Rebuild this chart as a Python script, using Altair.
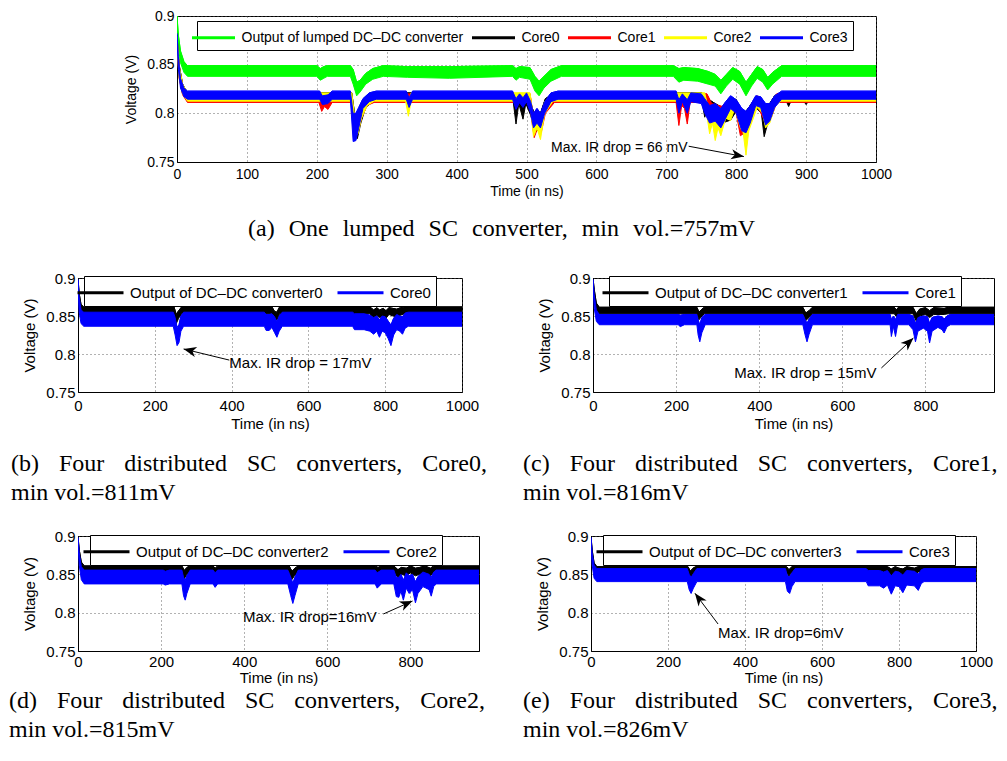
import math
import altair as alt
import pandas as pd

X_TITLE = "Time (in ns)"
Y_TITLE = "Voltage (V)"
Y_TICKS = [0.75, 0.8, 0.85, 0.9]

# ---------------- (a) one lumped converter: [time, low edge, high edge] ----------------
A_NAMES = ["Output of lumped DC\u2013DC converter", "Core0", "Core1", "Core2", "Core3"]
A_COLORS = ["#00ff00", "#000000", "#ff0000", "#ffff00", "#0000ff"]
A_TMAX = 1000
A_XTICKS = [0, 100, 200, 300, 400, 500, 600, 700, 800, 900, 1000]
A_OUT = [[0, 0.895, 0.9], [2, 0.868, 0.88], [5, 0.852, 0.864], [10, 0.842, 0.853], [15, 0.838, 0.849],
         [200, 0.838, 0.849], [205, 0.834, 0.846], [210, 0.836, 0.848], [215, 0.838, 0.849],
         [248, 0.838, 0.849], [252, 0.83, 0.845], [257, 0.818, 0.832], [262, 0.822, 0.834], [270, 0.83, 0.841],
         [280, 0.835, 0.846], [295, 0.838, 0.849], [330, 0.837, 0.848], [390, 0.836, 0.848], [480, 0.838, 0.849],
         [485, 0.834, 0.846], [490, 0.837, 0.848], [505, 0.835, 0.847], [512, 0.823, 0.838], [518, 0.818, 0.833],
         [525, 0.826, 0.838], [535, 0.833, 0.845], [550, 0.838, 0.849], [710, 0.838, 0.849], [718, 0.832, 0.846],
         [725, 0.834, 0.847], [745, 0.833, 0.846], [760, 0.83, 0.843], [770, 0.828, 0.84], [778, 0.82, 0.834],
         [786, 0.828, 0.84], [795, 0.835, 0.847], [805, 0.83, 0.843], [814, 0.818, 0.832], [822, 0.828, 0.84],
         [830, 0.836, 0.848], [838, 0.832, 0.845], [845, 0.824, 0.837], [852, 0.83, 0.842], [865, 0.838, 0.849],
         [1000, 0.838, 0.849]]
A_C0 = [[0, 0.87, 0.88], [3, 0.838, 0.85], [8, 0.82, 0.83], [15, 0.812, 0.821],
        [250, 0.812, 0.821], [254, 0.785, 0.8], [258, 0.774, 0.795], [263, 0.79, 0.806], [270, 0.806, 0.816],
        [280, 0.812, 0.821], [481, 0.812, 0.821], [485, 0.789, 0.806], [489, 0.81, 0.819], [495, 0.794, 0.808],
        [499, 0.81, 0.819], [506, 0.798, 0.81], [512, 0.78, 0.798], [520, 0.785, 0.8], [527, 0.805, 0.815],
        [540, 0.812, 0.821], [751, 0.812, 0.821], [755, 0.796, 0.81], [759, 0.805, 0.815], [770, 0.795, 0.81],
        [780, 0.79, 0.806], [792, 0.793, 0.808], [800, 0.802, 0.814], [810, 0.778, 0.798], [818, 0.79, 0.806],
        [828, 0.806, 0.816], [836, 0.8, 0.812], [840, 0.776, 0.796], [846, 0.792, 0.808], [855, 0.808, 0.818],
        [862, 0.812, 0.821], [872, 0.812, 0.821], [875, 0.807, 0.817], [878, 0.812, 0.821], [897, 0.812, 0.821],
        [900, 0.809, 0.819], [903, 0.812, 0.821], [1000, 0.812, 0.821]]
A_C1 = [[0, 0.868, 0.878], [3, 0.836, 0.848], [8, 0.819, 0.829], [15, 0.8112, 0.82],
        [203, 0.8112, 0.82], [207, 0.802, 0.814], [211, 0.807, 0.816], [216, 0.804, 0.815], [222, 0.8112, 0.82],
        [249, 0.8112, 0.82], [253, 0.776, 0.798], [258, 0.778, 0.8], [264, 0.795, 0.81], [272, 0.808, 0.818],
        [282, 0.8112, 0.82], [505, 0.8112, 0.82], [508, 0.79, 0.805], [511, 0.775, 0.795], [516, 0.785, 0.8],
        [521, 0.78, 0.798], [527, 0.8, 0.812], [540, 0.8112, 0.82], [714, 0.8112, 0.82], [718, 0.7875, 0.805],
        [722, 0.808, 0.817], [726, 0.805, 0.815], [730, 0.789, 0.806], [734, 0.8112, 0.82], [758, 0.8112, 0.82],
        [765, 0.795, 0.81], [780, 0.792, 0.807], [792, 0.805, 0.815], [800, 0.8, 0.812], [806, 0.777, 0.797],
        [812, 0.78, 0.798], [820, 0.792, 0.807], [830, 0.808, 0.818], [842, 0.79, 0.806], [850, 0.795, 0.81],
        [858, 0.8112, 0.82], [1000, 0.8112, 0.82]]
A_C2 = [[0, 0.869, 0.879], [3, 0.837, 0.849], [8, 0.82, 0.83], [15, 0.8125, 0.821],
        [250, 0.8125, 0.821], [254, 0.778, 0.798], [259, 0.779, 0.8], [264, 0.795, 0.81], [272, 0.808, 0.818],
        [282, 0.8125, 0.821], [327, 0.8125, 0.821], [331, 0.797, 0.812], [335, 0.8125, 0.821],
        [505, 0.8125, 0.821], [510, 0.776, 0.796], [515, 0.785, 0.8], [520, 0.773, 0.794], [526, 0.8, 0.812],
        [538, 0.8125, 0.821], [755, 0.8125, 0.821], [762, 0.779, 0.799], [766, 0.79, 0.806], [770, 0.772, 0.794],
        [774, 0.785, 0.8], [778, 0.777, 0.797], [785, 0.795, 0.81], [792, 0.7926, 0.808], [798, 0.805, 0.815],
        [806, 0.785, 0.8], [810, 0.78, 0.798], [814, 0.757, 0.785], [818, 0.782, 0.8], [822, 0.79, 0.806],
        [830, 0.806, 0.816], [838, 0.8, 0.812], [842, 0.785, 0.8], [848, 0.79, 0.806], [856, 0.808, 0.818],
        [864, 0.8125, 0.821], [1000, 0.8125, 0.821]]
A_C3 = [[0, 0.875, 0.882], [2, 0.845, 0.858], [5, 0.826, 0.836], [10, 0.817, 0.826], [15, 0.8145, 0.8228],
        [204, 0.8145, 0.8228], [208, 0.809, 0.818], [216, 0.81, 0.819], [222, 0.8145, 0.8228],
        [248, 0.8145, 0.8228], [252, 0.771, 0.8], [256, 0.772, 0.8], [260, 0.785, 0.806], [266, 0.805, 0.815],
        [275, 0.812, 0.821], [285, 0.8145, 0.8228], [328, 0.8145, 0.8228], [332, 0.806, 0.816], [337, 0.8145, 0.8228],
        [480, 0.8145, 0.8228], [485, 0.804, 0.815], [490, 0.811, 0.82], [495, 0.806, 0.816], [500, 0.812, 0.821],
        [506, 0.8, 0.812], [510, 0.785, 0.8], [515, 0.79, 0.805], [520, 0.785, 0.8], [526, 0.8, 0.812],
        [535, 0.812, 0.821], [545, 0.8145, 0.8228], [714, 0.8145, 0.8228], [718, 0.8, 0.814], [723, 0.812, 0.82],
        [730, 0.8, 0.814], [735, 0.812, 0.821], [750, 0.81, 0.82], [755, 0.8, 0.815], [762, 0.79, 0.808],
        [770, 0.792, 0.81], [778, 0.785, 0.805], [785, 0.795, 0.812], [792, 0.805, 0.818], [800, 0.8, 0.814],
        [808, 0.782, 0.805], [814, 0.78, 0.802], [820, 0.79, 0.808], [828, 0.808, 0.818], [835, 0.806, 0.817],
        [842, 0.788, 0.81], [848, 0.792, 0.81], [855, 0.806, 0.818], [865, 0.8145, 0.8228], [1000, 0.8145, 0.8228]]

# ---------------- (b)-(e) distributed converters ----------------
B_NAMES = ["Output of DC\u2013DC converter0", "Core0"]
C_NAMES = ["Output of DC\u2013DC converter1", "Core1"]
D_NAMES = ["Output of DC\u2013DC converter2", "Core2"]
E_NAMES = ["Output of DC\u2013DC converter3", "Core3"]
PAIR_COLORS = ["#000000", "#0000ff"]

B_OUT = [[0, 0.895, 0.9], [3, 0.87, 0.88], [8, 0.856, 0.865], [15, 0.853, 0.862],
         [250, 0.853, 0.862], [256, 0.84, 0.852], [262, 0.847, 0.857], [270, 0.853, 0.862],
         [505, 0.853, 0.862], [512, 0.846, 0.856], [518, 0.845, 0.855], [525, 0.853, 0.862],
         [760, 0.853, 0.862], [770, 0.848, 0.858], [778, 0.851, 0.861], [785, 0.848, 0.858], [795, 0.85, 0.86],
         [802, 0.847, 0.857], [810, 0.852, 0.861], [820, 0.85, 0.86], [830, 0.849, 0.859], [840, 0.851, 0.861],
         [850, 0.853, 0.862], [1000, 0.853, 0.862]]
B_CORE = [[0, 0.89, 0.898], [3, 0.855, 0.875], [8, 0.84, 0.858], [15, 0.8365, 0.855],
          [248, 0.8365, 0.855], [253, 0.825, 0.848], [258, 0.811, 0.835], [263, 0.815, 0.838], [268, 0.83, 0.85],
          [275, 0.8365, 0.855], [485, 0.8365, 0.855], [490, 0.831, 0.852], [498, 0.831, 0.852], [505, 0.835, 0.853],
          [512, 0.828, 0.849], [518, 0.822, 0.842], [524, 0.83, 0.85], [532, 0.8365, 0.855], [715, 0.8365, 0.855],
          [720, 0.832, 0.853], [745, 0.832, 0.853], [760, 0.83, 0.851], [770, 0.826, 0.848], [778, 0.83, 0.85],
          [785, 0.822, 0.845], [792, 0.83, 0.85], [800, 0.828, 0.849], [808, 0.82, 0.843], [815, 0.811, 0.838],
          [822, 0.825, 0.847], [830, 0.832, 0.852], [838, 0.83, 0.85], [845, 0.826, 0.849], [852, 0.834, 0.854],
          [860, 0.8365, 0.855], [1000, 0.8365, 0.855]]
C_OUT = [[0, 0.895, 0.9], [3, 0.875, 0.885], [8, 0.858, 0.867], [15, 0.853, 0.8615],
         [250, 0.853, 0.8615], [255, 0.845, 0.855], [262, 0.85, 0.859], [268, 0.853, 0.8615],
         [505, 0.853, 0.8615], [512, 0.844, 0.854], [520, 0.848, 0.857], [528, 0.853, 0.8615],
         [725, 0.853, 0.8615], [730, 0.849, 0.858], [735, 0.853, 0.8615], [770, 0.853, 0.8615],
         [778, 0.843, 0.853], [786, 0.85, 0.859], [800, 0.852, 0.861], [810, 0.848, 0.857], [820, 0.852, 0.861],
         [845, 0.852, 0.86], [855, 0.853, 0.8615], [965, 0.853, 0.8615]]
C_CORE = [[0, 0.89, 0.898], [3, 0.86, 0.878], [8, 0.843, 0.858], [15, 0.8385, 0.852],
          [205, 0.8385, 0.852], [210, 0.836, 0.851], [220, 0.8385, 0.852],
          [250, 0.8385, 0.852], [253, 0.825, 0.845], [257, 0.816, 0.838], [262, 0.828, 0.848], [270, 0.8385, 0.852],
          [505, 0.8385, 0.852], [510, 0.826, 0.846], [515, 0.816, 0.84], [520, 0.826, 0.846], [528, 0.8385, 0.852],
          [715, 0.8385, 0.852], [718, 0.823, 0.845], [723, 0.836, 0.85], [728, 0.823, 0.845], [733, 0.8385, 0.852],
          [760, 0.8385, 0.852], [770, 0.832, 0.85], [776, 0.816, 0.84], [782, 0.83, 0.848], [795, 0.834, 0.85],
          [805, 0.83, 0.849], [810, 0.8145, 0.84], [816, 0.83, 0.848], [830, 0.835, 0.85], [840, 0.832, 0.849],
          [845, 0.8276, 0.846], [852, 0.836, 0.85], [860, 0.8385, 0.852], [965, 0.8385, 0.852]]
D_OUT = [[0, 0.895, 0.9], [3, 0.872, 0.882], [8, 0.857, 0.866], [15, 0.853, 0.861],
         [250, 0.853, 0.861], [256, 0.8446, 0.855], [262, 0.85, 0.859], [270, 0.853, 0.861],
         [325, 0.853, 0.861], [330, 0.85, 0.858], [336, 0.853, 0.861],
         [508, 0.853, 0.861], [515, 0.8433, 0.854], [522, 0.849, 0.858], [530, 0.853, 0.861],
         [715, 0.853, 0.861], [722, 0.85, 0.859], [730, 0.853, 0.861], [760, 0.853, 0.861], [770, 0.846, 0.856],
         [778, 0.85, 0.859], [790, 0.848, 0.858], [800, 0.852, 0.861], [812, 0.848, 0.858], [822, 0.85, 0.859],
         [835, 0.852, 0.861], [848, 0.848, 0.858], [856, 0.853, 0.861], [965, 0.853, 0.861]]
D_CORE = [[0, 0.89, 0.898], [3, 0.862, 0.878], [8, 0.843, 0.86], [15, 0.8375, 0.8555],
          [205, 0.8375, 0.8555], [210, 0.836, 0.854], [220, 0.8375, 0.8555],
          [250, 0.8375, 0.8555], [254, 0.822, 0.846], [258, 0.8163, 0.842], [262, 0.825, 0.848], [270, 0.8375, 0.8555],
          [325, 0.8375, 0.8555], [330, 0.833, 0.852], [336, 0.8375, 0.8555],
          [505, 0.8375, 0.8555], [512, 0.822, 0.846], [517, 0.812, 0.838], [522, 0.822, 0.846], [530, 0.8375, 0.8555],
          [715, 0.8375, 0.8555], [720, 0.832, 0.852], [730, 0.8375, 0.8555], [760, 0.8375, 0.8555],
          [766, 0.821, 0.846], [772, 0.82, 0.846], [777, 0.828, 0.85], [783, 0.8163, 0.842], [790, 0.832, 0.852],
          [797, 0.825, 0.848], [805, 0.83, 0.85], [812, 0.8128, 0.84], [818, 0.825, 0.847], [830, 0.834, 0.853],
          [845, 0.83, 0.85], [850, 0.8215, 0.846], [856, 0.834, 0.853], [862, 0.8375, 0.8555], [965, 0.8375, 0.8555]]
E_OUT = [[0, 0.895, 0.9], [3, 0.872, 0.882], [8, 0.857, 0.865], [15, 0.853, 0.86],
         [252, 0.853, 0.86], [258, 0.8446, 0.854], [265, 0.85, 0.858], [272, 0.853, 0.86],
         [508, 0.853, 0.86], [514, 0.8477, 0.856], [522, 0.853, 0.86], [770, 0.853, 0.86],
         [780, 0.848, 0.857], [790, 0.852, 0.86], [800, 0.85, 0.858], [810, 0.848, 0.857], [820, 0.852, 0.86],
         [840, 0.85, 0.858], [850, 0.853, 0.86], [1000, 0.853, 0.86]]
E_CORE = [[0, 0.892, 0.898], [3, 0.862, 0.878], [8, 0.845, 0.862], [15, 0.8405, 0.8575],
          [250, 0.8405, 0.8575], [255, 0.83, 0.85], [260, 0.825, 0.846], [266, 0.832, 0.851], [275, 0.8405, 0.8575],
          [505, 0.8405, 0.8575], [510, 0.828, 0.848], [516, 0.825, 0.847], [522, 0.834, 0.852], [530, 0.8405, 0.8575],
          [715, 0.8405, 0.8575], [720, 0.835, 0.855], [750, 0.835, 0.855], [760, 0.832, 0.853], [770, 0.836, 0.855],
          [780, 0.8241, 0.848], [790, 0.835, 0.854], [800, 0.834, 0.853], [810, 0.826, 0.849], [820, 0.836, 0.855],
          [840, 0.835, 0.854], [850, 0.829, 0.85], [858, 0.838, 0.856], [865, 0.8405, 0.8575], [1000, 0.8405, 0.8575]]

# annotations: text, text anchor (t, v), arrow start (t, v), arrow tip (t, v)
A_NOTE = ["Max. IR drop = 66 mV", 535, 0.7648, 732, 0.7662, 811, 0.7556]
B_NOTE = ["Max. IR drop = 17mV", 394, 0.7878, 394, 0.792, 275, 0.8066]
C_NOTE = ["Max. IR drop = 15mV", 340, 0.775, 694, 0.7816, 771, 0.821]
D_NOTE = ["Max. IR drop=16mV", 397, 0.7943, 735, 0.7983, 805, 0.8152]
E_NOTE = ["Max. IR drop=6mV", 330, 0.7735, 330, 0.7852, 270, 0.8253]

SP = "\u00a0"
GA = SP * 2 + "\u200a"
G3 = SP * 3 + "\u200a"
CAP_A = GA.join(["(a)", "One", "lumped", "SC", "converter,", "min", "vol.=757mV"])
CAP_B = [G3.join(["(b)", "Four", "distributed", "SC", "converters,", "Core0,"]), "min" + SP + "vol.=811mV"]
CAP_C = [G3.join(["(c)", "Four", "distributed", "SC", "converters,", "Core1,"]), "min" + SP + "vol.=816mV"]
CAP_D = [G3.join(["(d)", "Four", "distributed", "SC", "converters,", "Core2,"]), "min" + SP + "vol.=815mV"]
CAP_E = [G3.join(["(e)", "Four", "distributed", "SC", "converters,", "Core3,"]), "min" + SP + "vol.=826mV"]

ARROW_PATH = "M0,0L-1,-0.4L-0.72,0L-1,0.4Z"
SANS = "Liberation Sans"
SERIF = "Liberation Serif"


def panel(names, colors, series, tmax, xticks, width, height, fs, note, caption, cap_dx, cap_off,
          lg_x, lg_y, sym_half, col_pad, lg_pad, lab_pad, tit_pad):
    rows = []
    for name, pts in zip(names, series):
        for t, lo, hi in pts:
            rows.append({"t": t, "lo": lo, "hi": hi, "s": name})
    df = pd.DataFrame(rows)
    xs = alt.Scale(domain=[0, tmax], nice=False, zero=False)
    ys = alt.Scale(domain=[0.75, 0.9], nice=False, zero=False)
    xax = alt.Axis(values=xticks, format="d", title=X_TITLE, labelFontSize=fs, titleFontSize=fs,
                   labelPadding=lab_pad, titlePadding=tit_pad, labelFlush=False, labelOverlap=False)
    yax = alt.Axis(values=Y_TICKS, format="~g", title=Y_TITLE, labelFontSize=fs, titleFontSize=fs,
                   labelPadding=3, titlePadding=8, labelFlush=False, labelOverlap=False)

    def X(f):
        return alt.X(f + ":Q", scale=xs, axis=xax)

    def Y(f):
        return alt.Y(f + ":Q", scale=ys, axis=yax)

    u = 10.0  # symbol unit in px (symbolSize 400 -> 20 px box)
    sym_path = "M%.3f,0H%.3f" % (-sym_half / u, sym_half / u)
    legend = alt.Legend(orient="none", legendX=lg_x, legendY=lg_y, direction="horizontal",
                        columns=len(names), title=None,
                        symbolType=sym_path, symbolSize=400, symbolStrokeWidth=3, symbolOffset=0,
                        labelOffset=sym_half - 5, labelFont=SANS, labelFontSize=fs,
                        labelColor="black", labelLimit=500, strokeColor="black", fillColor="white",
                        padding=lg_pad, columnPadding=col_pad, cornerRadius=0)
    layers = [alt.Chart(df).mark_line(strokeWidth=1, clip=True).encode(
        x=X("t"), y=Y("hi"),
        color=alt.Color("s:N", scale=alt.Scale(domain=names, range=colors), legend=legend))]
    for name, c in zip(names, colors):
        layers.append(alt.Chart(df).transform_filter(alt.datum.s == name)
                      .mark_area(color=c, stroke=c, strokeWidth=1, opacity=1, clip=True)
                      .encode(x=X("t"), y=Y("lo"), y2="hi:Q"))
    label, tt, tv, t0, v0, t1, v1 = note
    ndf = pd.DataFrame({"tt": [tt], "tv": [tv], "label": [label], "t0": [t0], "v0": [v0], "t1": [t1], "v1": [v1]})
    dx = (t1 - t0) * width / tmax
    dy = -(v1 - v0) * height / 0.15
    ang = math.degrees(math.atan2(dy, dx)) % 360
    layers.append(alt.Chart(ndf).mark_text(align="left", baseline="middle", font=SANS, fontSize=fs,
                                           color="black").encode(x=X("tt"), y=Y("tv"), text="label:N"))
    layers.append(alt.Chart(ndf).mark_rule(color="black", strokeWidth=1).encode(
        x=X("t0"), y=Y("v0"), x2="t1:Q", y2="v1:Q"))
    layers.append(alt.Chart(ndf).mark_point(shape=ARROW_PATH, filled=True, size=650, angle=ang,
                                            color="black", opacity=1).encode(x=X("t1"), y=Y("v1")))
    title = alt.TitleParams(text=caption, orient="bottom", anchor="start", frame="group", dx=cap_dx,
                            offset=cap_off, font=SERIF, fontSize=24, fontWeight="normal", color="black",
                            lineHeight=28.5)
    return alt.layer(*layers).properties(width=width, height=height, title=title)


pa = panel(A_NAMES, A_COLORS, [A_OUT, A_C0, A_C1, A_C2, A_C3], A_TMAX, A_XTICKS, 699, 146, 14,
           A_NOTE, CAP_A, 71, 19, 20, 5, 21.5, 2, 5, 5, 3)
pb = panel(B_NAMES, PAIR_COLORS, [B_OUT, B_CORE], 1000, [0, 200, 400, 600, 800, 1000], 384, 114, 15,
           B_NOTE, CAP_B, -67, 21, 6, -2, 23, 8, 5, 6, 3)
pc = panel(C_NAMES, PAIR_COLORS, [C_OUT, C_CORE], 965, [0, 200, 400, 600, 800], 401, 114, 15,
           C_NOTE, CAP_C, -70, 21, 16, -2, 23, 8, 5, 6, 3)
pd_ = panel(D_NAMES, PAIR_COLORS, [D_OUT, D_CORE], 965, [0, 200, 400, 600, 800], 401, 115, 15,
            D_NOTE, CAP_D, -69, 4, 12, -1, 23, 8, 5, 3, 1)
pe = panel(E_NAMES, PAIR_COLORS, [E_OUT, E_CORE], 1000, [0, 200, 400, 600, 800, 1000], 385, 115, 15,
           E_NOTE, CAP_E, -68, 4, 12, -1, 23, 8, 5, 3, 1)

spacer = alt.Chart(pd.DataFrame({"v": [0]})).mark_point(opacity=0).encode(
    x=alt.X("v:Q", axis=None), y=alt.Y("v:Q", axis=None)
).properties(width=1, height=146, view=alt.ViewBackground(strokeOpacity=0))

# with flush bounds a nested concat counts as zero-sized, so spacing = distance between row tops
row1 = alt.hconcat(spacer, pa, spacing=98, bounds="flush").resolve_scale(color="independent")
row2 = alt.hconcat(pb, pc, spacing=131, bounds="flush").resolve_scale(color="independent")
row3 = alt.hconcat(pd_, pe, spacing=112, bounds="flush").resolve_scale(color="independent")
lower = alt.vconcat(row2, row3, spacing=258, bounds="flush").resolve_scale(color="independent")
chart = alt.vconcat(row1, lower, spacing=262, bounds="flush", padding=0).resolve_scale(color="independent")

chart = chart.configure_view(stroke="black", strokeWidth=1).configure_axis(
    labelFont=SANS, titleFont=SANS, labelColor="black", titleColor="black", titleFontWeight="normal",
    domainColor="black", domainWidth=1, ticks=False, grid=True, gridColor="#555555", gridDash=[1, 3],
    gridWidth=1, gridOpacity=0.9
)

chart.save("out.html", embed_options={"renderer": "svg", "actions": False})
